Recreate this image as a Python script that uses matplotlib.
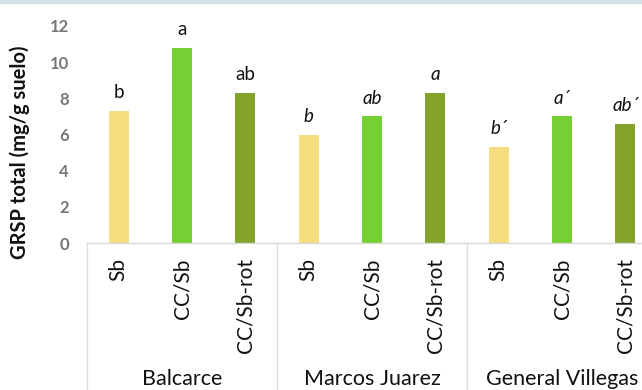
import matplotlib
matplotlib.use("Agg")
from matplotlib import pyplot as plt
from matplotlib.patches import Rectangle

plt.rcParams['font.family'] = ['Lato', 'DejaVu Sans']

sites = ["Balcarce", "Marcos Juarez", "General Villegas"]
treatments = ["Sb", "CC/Sb", "CC/Sb-rot"]
grsp = [7.3, 10.8, 8.3, 6.0, 7.0, 8.3, 5.3, 7.0, 6.6]
letters = ["b", "a", "ab", "b", "ab", "a", "b´", "a´", "ab´"]
italic_site = [False, True, True]
colors = ["#F5DC7C", "#76D034", "#84A32A"]

fig = plt.figure(figsize=(6.42, 3.9), dpi=100)
# thin blue strip at the top of the picture
fig.patches.append(Rectangle((0, 0.992), 1, 0.008, transform=fig.transFigure,
                             color="#D4E2EA", zorder=0))

ax = fig.add_axes([87 / 642, 147 / 390, 570 / 642, 217 / 390])

xs = list(range(len(grsp)))
bar_colors = [colors[i % 3] for i in xs]
ax.bar(xs, grsp, width=0.32, color=bar_colors, zorder=2)

for i, (v, lab) in enumerate(zip(grsp, letters)):
    style = "italic" if italic_site[i // 3] else "normal"
    ax.annotate(lab, (i, v), xytext=(0, 7), textcoords="offset points",
                ha="center", va="bottom", fontsize=13.5, style=style,
                color="#111111", annotation_clip=False)

ax.set_xlim(-0.5, 8.5)
ax.set_ylim(0, 12)
ax.set_yticks(range(0, 13, 2))
ax.tick_params(axis="y", length=0, pad=13, labelsize=12, labelcolor="#767676")
for t in ax.get_yticklabels():
    t.set_fontweight("bold")

ax.set_xticks(xs)
ax.set_xticklabels(treatments * 3, rotation=90, fontsize=15, color="#111111")
ax.tick_params(axis="x", length=0, pad=11)

for s in ["top", "right", "left"]:
    ax.spines[s].set_visible(False)
ax.spines["bottom"].set_color("#D9D9D9")
ax.spines["bottom"].set_linewidth(1)

# group separators below the axis
tr = ax.get_xaxis_transform()
for x in [-0.5, 2.5, 5.5]:
    ax.plot([x, x], [0, -0.7], transform=tr, color="#DDDDDD", lw=1, clip_on=False)

for g, name in enumerate(sites):
    ax.text(g * 3 + 1, -0.655, name, transform=tr, ha="center", va="baseline",
            fontsize=15.5, color="#111111")

ax.set_ylabel("GRSP total (mg/g suelo)", fontsize=14.5, fontweight="bold",
              color="#111111")
ax.yaxis.set_label_coords(-0.1, 0.42)

fig.savefig("out.png", dpi=100)
